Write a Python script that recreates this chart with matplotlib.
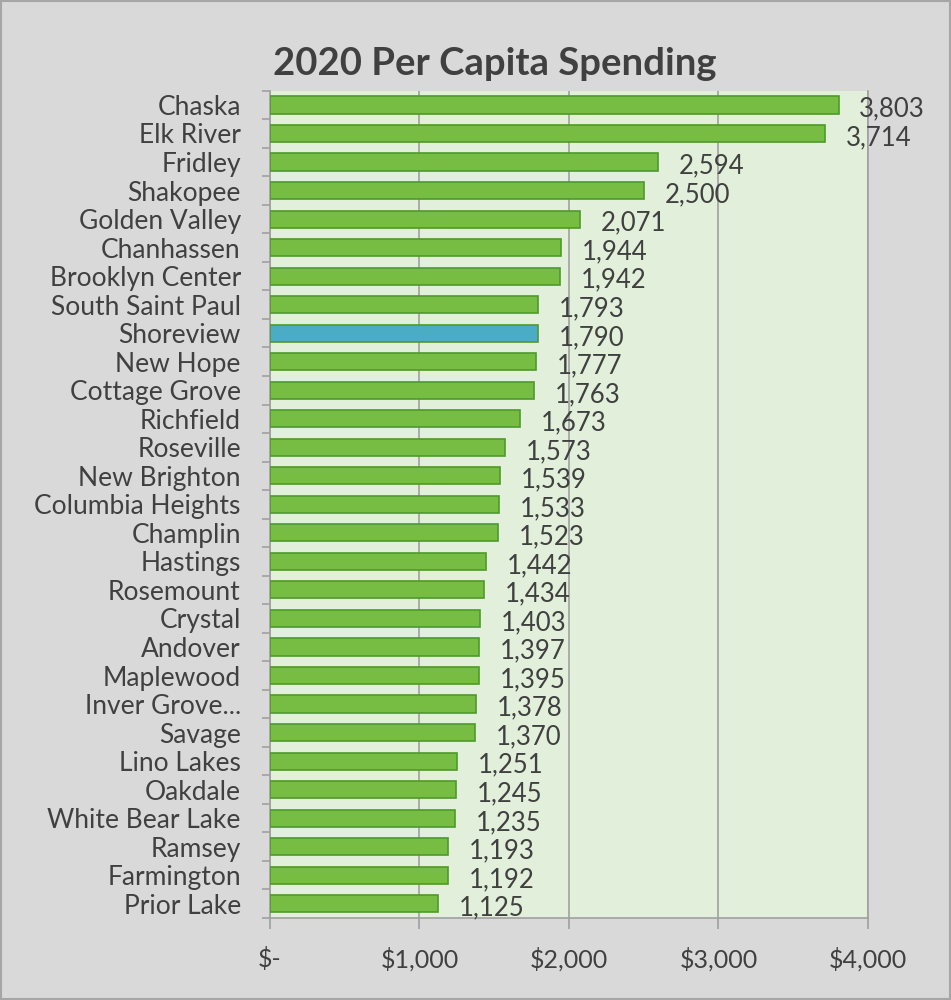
import numpy as np
import matplotlib
matplotlib.use('Agg')
import matplotlib.pyplot as plt
from matplotlib.ticker import FixedLocator

plt.rcParams['font.family'] = ['Lato', 'DejaVu Sans']

cities = ['Chaska', 'Elk River', 'Fridley', 'Shakopee', 'Golden Valley', 'Chanhassen',
          'Brooklyn Center', 'South Saint Paul', 'Shoreview', 'New Hope', 'Cottage Grove',
          'Richfield', 'Roseville', 'New Brighton', 'Columbia Heights', 'Champlin',
          'Hastings', 'Rosemount', 'Crystal', 'Andover', 'Maplewood', 'Inver Grove...',
          'Savage', 'Lino Lakes', 'Oakdale', 'White Bear Lake', 'Ramsey', 'Farmington',
          'Prior Lake']
spending = [3803, 3714, 2594, 2500, 2071, 1944, 1942, 1793, 1790, 1777, 1763, 1673,
            1573, 1539, 1533, 1523, 1442, 1434, 1403, 1397, 1395, 1378, 1370, 1251,
            1245, 1235, 1193, 1192, 1125]
highlight = 'Shoreview'
xticks = [0, 1000, 2000, 3000, 4000]
xtick_labels = ['$-', '$1,000', '$2,000', '$3,000', '$4,000']

txt = '#404040'
fig = plt.figure(figsize=(9.51, 10), dpi=100, facecolor='#d9d9d9')
fig.patches.append(plt.Rectangle((0.001, 0.001), 0.998, 0.998, transform=fig.transFigure,
                                 fill=False, edgecolor='#a6a6a6', linewidth=1.5))
ax = fig.add_axes([0.2839, 0.082, 0.6288, 0.8273])
ax.set_facecolor('#e2efda')

y = np.arange(len(cities))
colors = ['#4bacc6' if c == highlight else '#77bc43' for c in cities]
ax.barh(y, spending, height=0.6, color=colors, edgecolor='#4e9a2a', linewidth=1.2, zorder=3)

for yi, v in zip(y, spending):
    ax.annotate(f'{v:,}', (v, yi), xytext=(15, -3), textcoords='offset points',
                ha='left', va='center', fontsize=18.5, color=txt, zorder=4)

ax.set_xlim(0, 4000)
ax.set_ylim(len(cities) - 0.5, -0.5)
ax.set_xticks(xticks)
ax.set_xticklabels(xtick_labels, fontsize=18, color=txt)
ax.set_yticks(y)
ax.set_yticklabels(cities, fontsize=19, color=txt)
ax.tick_params(axis='y', length=0, pad=21)
ax.tick_params(axis='x', length=8, color='#a0a0a0', width=1.2, pad=13)
ax.yaxis.set_minor_locator(FixedLocator(np.arange(-0.5, len(cities), 1)))
ax.tick_params(axis='y', which='minor', length=6, color='#a0a0a0', width=1.2)
ax.grid(axis='x', color='#a0a0a0', linewidth=1.2, zorder=1)
ax.spines['top'].set_visible(False)
for s in ['left', 'bottom', 'right']:
    ax.spines[s].set_color('#a0a0a0')
    ax.spines[s].set_linewidth(1.2)

fig.text(0.52, 0.936, '2020 Per Capita Spending', ha='center', va='center',
         fontsize=27.5, fontweight='bold', color=txt)

plt.savefig('out.png', dpi=100, facecolor=fig.get_facecolor())
